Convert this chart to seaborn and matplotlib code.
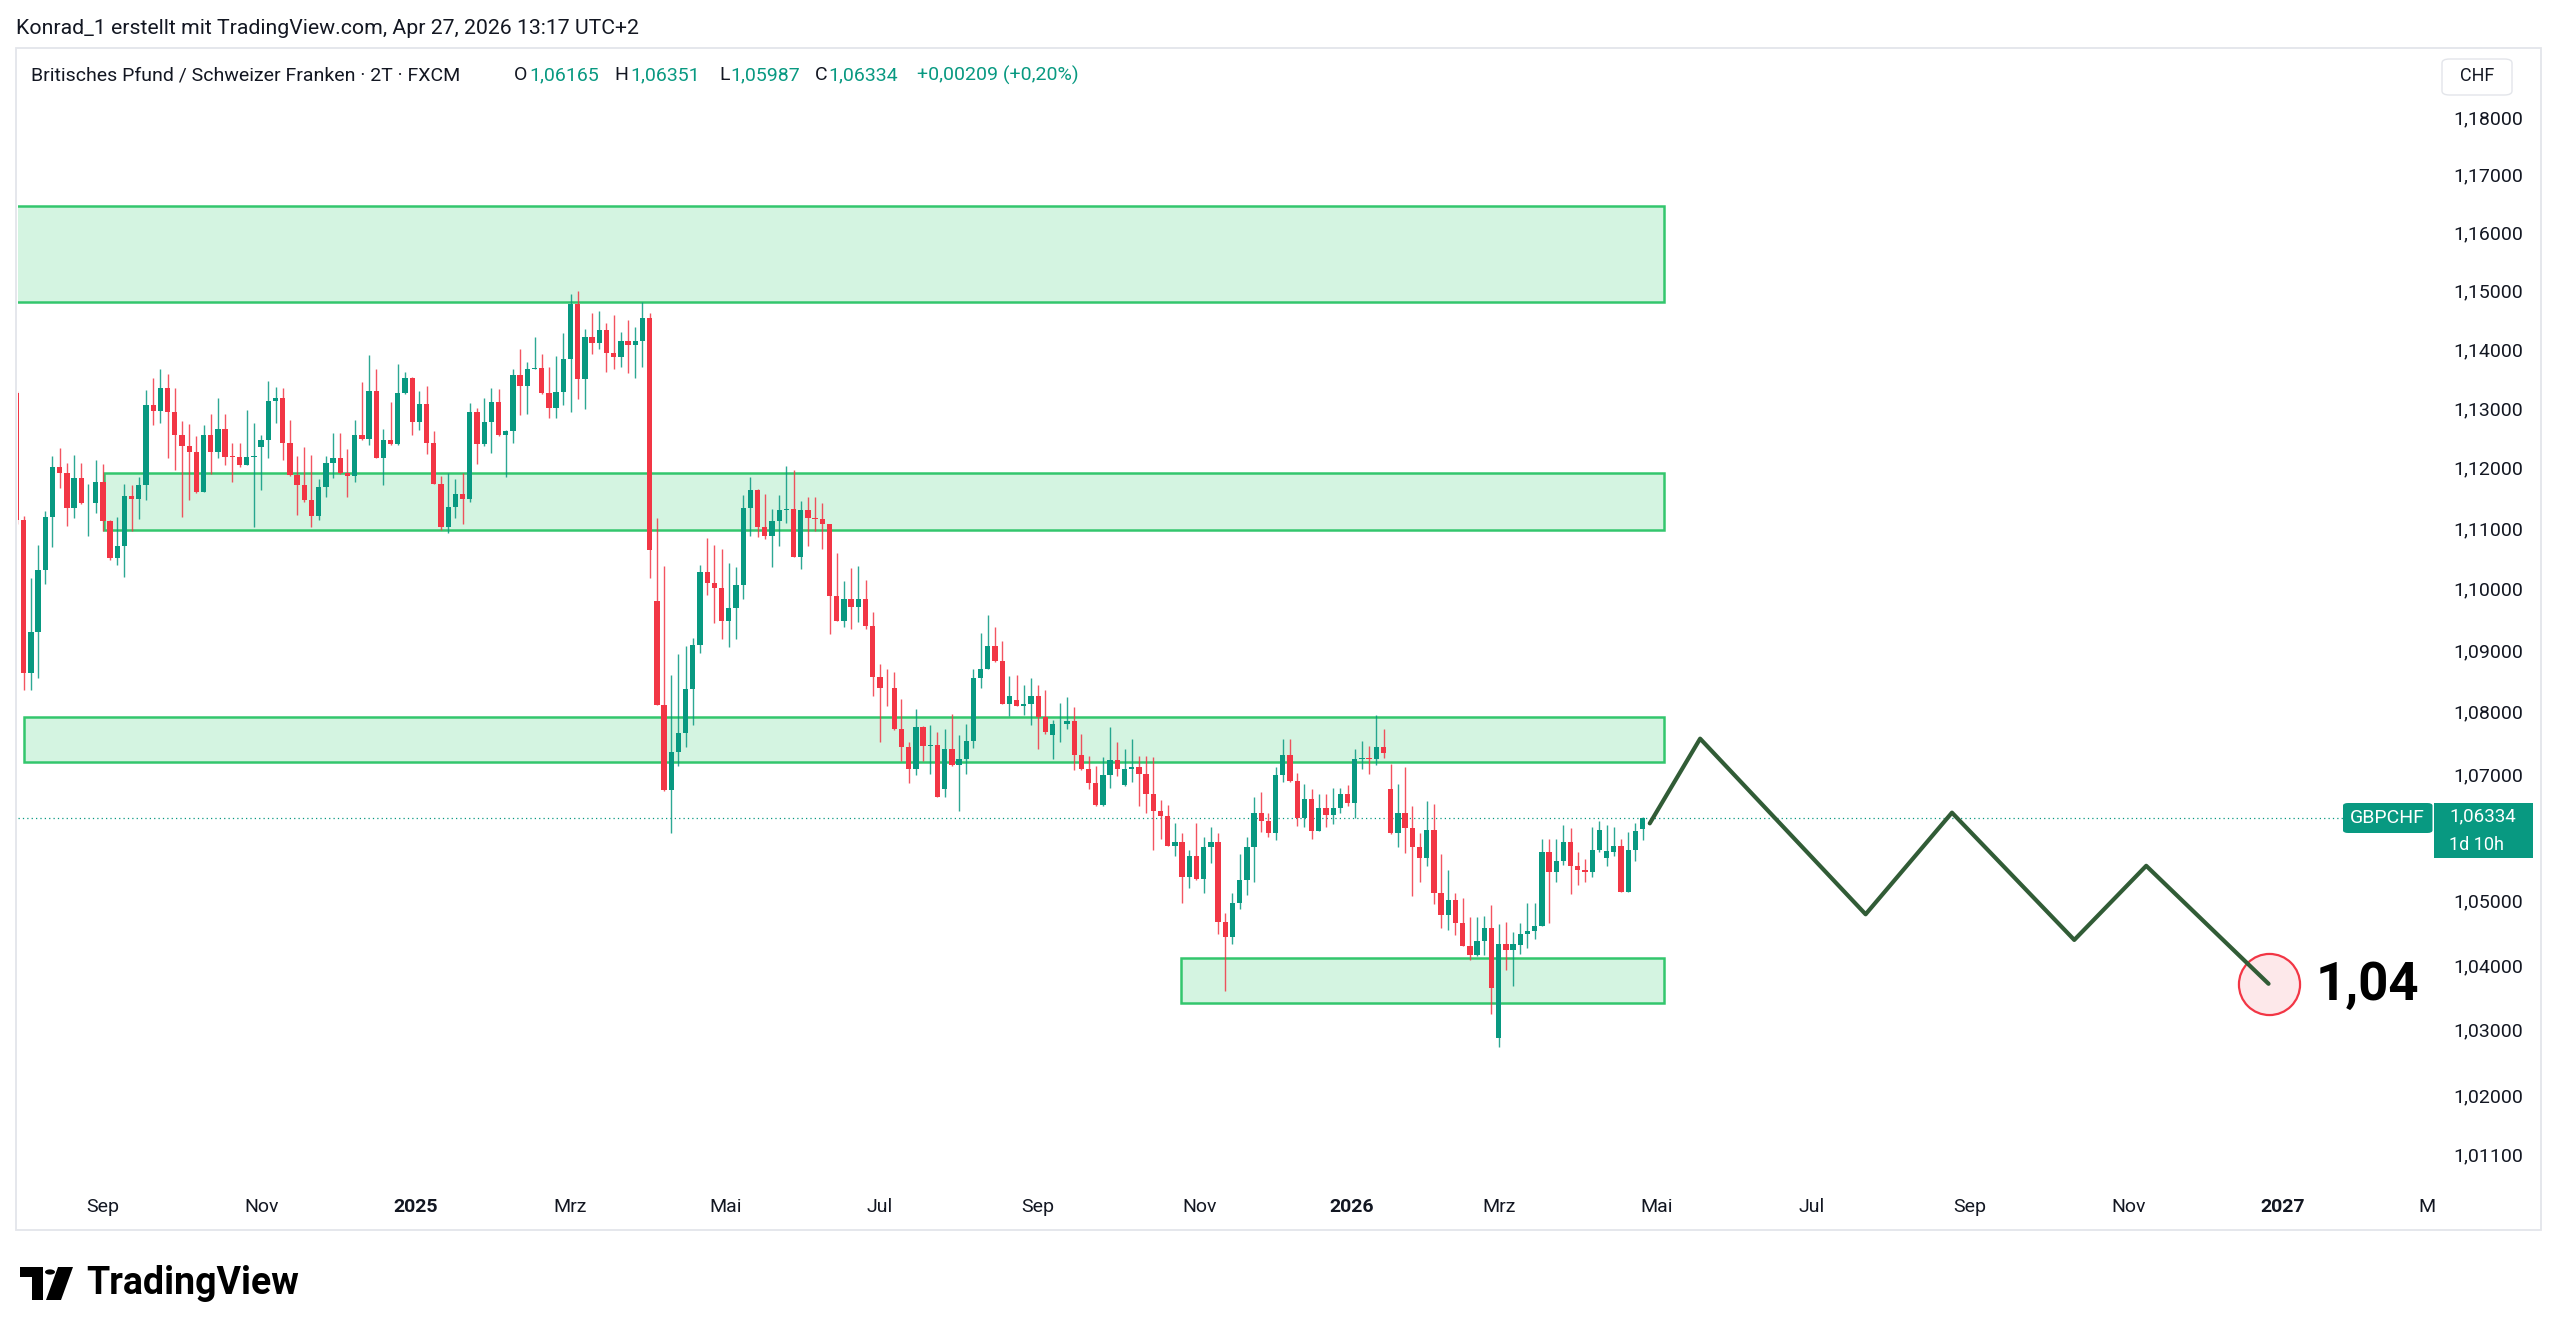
import numpy as np
import pandas as pd
import matplotlib
matplotlib.use("Agg")
import matplotlib.pyplot as plt
import seaborn as sns
from matplotlib.patches import Rectangle, FancyBboxPatch, Polygon, Circle
from matplotlib.transforms import blended_transform_factory
from matplotlib.ticker import NullLocator

# ---------------- data ----------------
opens = [1.1328,1.1116,1.0865,1.0933,1.1034,1.1122,1.1204,1.1195,1.1136,1.1187,
1.1144,1.1145,1.1180,1.1115,1.1053,1.1073,1.1156,1.1152,1.1174,1.1308,
1.1299,1.1338,1.1296,1.1258,1.1240,1.1230,1.1163,1.1258,1.1230,1.1268,
1.1222,1.1221,1.1208,1.1221,1.1238,1.1250,1.1316,1.1320,1.1245,1.1191,
1.1174,1.1150,1.1123,1.1171,1.1212,1.1219,1.1195,1.1190,1.1258,1.1251,
1.1332,1.1220,1.1250,1.1243,1.1329,1.1355,1.1280,1.1311,1.1245,1.1176,
1.1105,1.1138,1.1160,1.1151,1.1296,1.1243,1.1280,1.1314,1.1258,1.1265,
1.1360,1.1340,1.1370,1.1371,1.1328,1.1304,1.1330,1.1386,1.1480,1.1353,
1.1424,1.1414,1.1435,1.1397,1.1389,1.1417,1.1411,1.1417,1.1457,1.0983,
1.0814,1.0678,1.0739,1.0769,1.0840,1.0911,1.1031,1.1012,1.1004,1.0951,
1.0972,1.1010,1.1136,1.1167,1.1105,1.1090,1.1114,1.1133,1.1134,1.1056,
1.1133,1.1119,1.1118,1.1109,1.0992,1.0951,1.0986,1.0973,1.0986,1.0942,
1.0860,1.0842,1.0841,1.0775,1.0746,1.0712,1.0779,1.0749,1.0750,1.0680,
1.0744,1.0718,1.0727,1.0756,1.0857,1.0873,1.0909,1.0885,1.0816,1.0822,
1.0813,1.0815,1.0828,1.0795,1.0766,1.0783,1.0784,1.0789,1.0734,1.0712,
1.0689,1.0654,1.0702,1.0726,1.0686,1.0711,1.0714,1.0704,1.0671,1.0645,
1.0637,1.0589,1.0596,1.0541,1.0573,1.0537,1.0587,1.0596,1.0470,1.0446,
1.0500,1.0535,1.0588,1.0641,1.0628,1.0610,1.0702,1.0734,1.0693,1.0634,
1.0663,1.0613,1.0650,1.0638,1.0650,1.0672,1.0657,1.0728,1.0729,1.0727,
1.0746,1.0679,1.0610,1.0641,1.0617,1.0588,1.0571,1.0614,1.0515,1.0481,
1.0504,1.0468,1.0433,1.0418,1.0441,1.0461,1.0290,1.0436,1.0426,1.0434,
1.0451,1.0456,1.0464,1.0579,1.0549,1.0565,1.0595,1.0557,1.0551,1.0549,
1.0583,1.0570,1.0579,1.0589,1.0517,1.0583,1.06165]

highs = [1.1332,1.1123,1.1020,1.1075,1.1132,1.1223,1.1237,1.1212,1.1224,1.1212,
1.1177,1.1217,1.1210,1.1116,1.1122,1.1177,1.1174,1.1188,1.1334,1.1355,
1.1370,1.1361,1.1338,1.1282,1.1277,1.1256,1.1275,1.1293,1.1320,1.1293,
1.1245,1.1245,1.1300,1.1279,1.1258,1.1349,1.1339,1.1338,1.1283,1.1223,
1.1238,1.1224,1.1184,1.1223,1.1262,1.1262,1.1235,1.1284,1.1347,1.1394,
1.1370,1.1269,1.1314,1.1378,1.1364,1.1356,1.1332,1.1340,1.1265,1.1190,
1.1194,1.1184,1.1195,1.1312,1.1304,1.1321,1.1338,1.1335,1.1266,1.1370,
1.1404,1.1382,1.1423,1.1395,1.1373,1.1391,1.1431,1.1497,1.1502,1.1437,
1.1464,1.1468,1.1448,1.1461,1.1433,1.1453,1.1440,1.1484,1.1464,1.1119,
1.1040,1.0862,1.0897,1.0910,1.0922,1.1042,1.1086,1.1075,1.1069,1.1045,
1.1039,1.1158,1.1188,1.1168,1.1160,1.1135,1.1158,1.1206,1.1200,1.1148,
1.1155,1.1154,1.1144,1.1110,1.1062,1.1015,1.1037,1.1040,1.1017,1.0965,
1.0881,1.0873,1.0868,1.0823,1.0755,1.0807,1.0780,1.0782,1.0771,1.0776,
1.0800,1.0766,1.0783,1.0873,1.0930,1.0960,1.0941,1.0918,1.0861,1.0863,
1.0847,1.0858,1.0847,1.0838,1.0790,1.0817,1.0827,1.0811,1.0768,1.0733,
1.0716,1.0730,1.0779,1.0755,1.0743,1.0760,1.0733,1.0732,1.0731,1.0662,
1.0654,1.0625,1.0609,1.0583,1.0625,1.0604,1.0619,1.0610,1.0484,1.0516,
1.0577,1.0604,1.0667,1.0674,1.0641,1.0715,1.0760,1.0759,1.0705,1.0687,
1.0679,1.0672,1.0672,1.0681,1.0681,1.0686,1.0744,1.0756,1.0749,1.0798,
1.0775,1.0720,1.0687,1.0715,1.0652,1.0609,1.0661,1.0656,1.0577,1.0552,
1.0515,1.0508,1.0477,1.0477,1.0479,1.0496,1.0467,1.0470,1.0455,1.0469,
1.0499,1.0499,1.0600,1.0601,1.0601,1.0622,1.0618,1.0580,1.0568,1.0620,
1.0629,1.0622,1.0620,1.0600,1.0612,1.0626,1.06351]

lows = [1.1110,1.0838,1.0838,1.0857,1.1011,1.1071,1.1169,1.1107,1.1119,1.1143,
1.1090,1.1128,1.1099,1.1051,1.1042,1.1023,1.1099,1.1118,1.1150,1.1275,
1.1278,1.1220,1.1200,1.1121,1.1150,1.1161,1.1163,1.1193,1.1220,1.1208,
1.1180,1.1205,1.1208,1.1105,1.1167,1.1219,1.1279,1.1216,1.1189,1.1125,
1.1147,1.1104,1.1116,1.1155,1.1187,1.1193,1.1154,1.1180,1.1250,1.1241,
1.1219,1.1175,1.1241,1.1241,1.1327,1.1258,1.1266,1.1227,1.1176,1.1100,
1.1095,1.1120,1.1110,1.1147,1.1209,1.1240,1.1228,1.1256,1.1188,1.1244,
1.1292,1.1294,1.1369,1.1327,1.1286,1.1286,1.1308,1.1297,1.1318,1.1301,
1.1395,1.1404,1.1365,1.1369,1.1372,1.1362,1.1355,1.1373,1.1020,1.0814,
1.0676,1.0609,1.0717,1.0747,1.0782,1.0898,1.0993,1.0947,1.0921,1.0908,
1.0921,1.0986,1.1090,1.1089,1.1085,1.1039,1.1073,1.1112,1.1056,1.1035,
1.1073,1.1099,1.1069,1.0929,1.0950,1.0941,1.0937,1.0948,1.0937,1.0828,
1.0755,1.0812,1.0774,1.0725,1.0689,1.0702,1.0725,1.0703,1.0667,1.0667,
1.0717,1.0645,1.0704,1.0745,1.0841,1.0872,1.0884,1.0815,1.0796,1.0812,
1.0798,1.0782,1.0743,1.0768,1.0728,1.0755,1.0776,1.0710,1.0710,1.0679,
1.0653,1.0652,1.0681,1.0700,1.0685,1.0691,1.0652,1.0642,1.0583,1.0601,
1.0589,1.0574,1.0500,1.0523,1.0536,1.0516,1.0562,1.0451,1.0363,1.0436,
1.0490,1.0512,1.0533,1.0612,1.0604,1.0598,1.0690,1.0690,1.0621,1.0619,
1.0601,1.0613,1.0620,1.0624,1.0641,1.0653,1.0633,1.0711,1.0703,1.0718,
1.0729,1.0608,1.0588,1.0578,1.0510,1.0533,1.0558,1.0498,1.0460,1.0457,
1.0450,1.0433,1.0411,1.0417,1.0418,1.0328,1.0276,1.0395,1.0370,1.0420,
1.0430,1.0443,1.0463,1.0468,1.0532,1.0560,1.0514,1.0528,1.0533,1.0540,
1.0579,1.0558,1.0573,1.0517,1.0517,1.0566,1.05987]

closes = [1.1116,1.0865,1.0933,1.1034,1.1122,1.1204,1.1195,1.1136,1.1187,1.1144,
1.1145,1.1180,1.1115,1.1053,1.1073,1.1156,1.1152,1.1174,1.1308,1.1299,
1.1338,1.1296,1.1258,1.1240,1.1230,1.1163,1.1258,1.1230,1.1268,1.1222,
1.1221,1.1208,1.1221,1.1222,1.1250,1.1316,1.1320,1.1245,1.1191,1.1174,
1.1150,1.1123,1.1171,1.1212,1.1219,1.1195,1.1190,1.1258,1.1251,1.1332,
1.1220,1.1250,1.1243,1.1329,1.1355,1.1280,1.1311,1.1245,1.1176,1.1105,
1.1138,1.1160,1.1151,1.1297,1.1243,1.1280,1.1314,1.1258,1.1265,1.1360,
1.1340,1.1370,1.1371,1.1328,1.1304,1.1330,1.1386,1.1480,1.1353,1.1424,
1.1414,1.1435,1.1397,1.1389,1.1417,1.1411,1.1417,1.1457,1.1066,1.0814,
1.0678,1.0739,1.0769,1.0840,1.0911,1.1031,1.1012,1.1004,1.0951,1.0972,
1.1010,1.1136,1.1167,1.1105,1.1090,1.1114,1.1133,1.1134,1.1056,1.1133,
1.1119,1.1118,1.1109,1.0992,1.0951,1.0986,1.0973,1.0986,1.0942,1.0860,
1.0842,1.0841,1.0775,1.0746,1.0712,1.0779,1.0749,1.0750,1.0667,1.0744,
1.0718,1.0727,1.0756,1.0857,1.0873,1.0909,1.0885,1.0816,1.0829,1.0813,
1.0815,1.0828,1.0795,1.0770,1.0783,1.0784,1.0789,1.0734,1.0712,1.0689,
1.0654,1.0702,1.0726,1.0711,1.0711,1.0714,1.0704,1.0671,1.0645,1.0637,
1.0589,1.0596,1.0541,1.0573,1.0537,1.0587,1.0596,1.0470,1.0446,1.0500,
1.0535,1.0588,1.0641,1.0628,1.0610,1.0702,1.0734,1.0693,1.0634,1.0663,
1.0613,1.0650,1.0638,1.0650,1.0672,1.0657,1.0728,1.0729,1.0727,1.0746,
1.0737,1.0610,1.0641,1.0617,1.0588,1.0571,1.0614,1.0515,1.0481,1.0504,
1.0468,1.0433,1.0418,1.0441,1.0461,1.0367,1.0436,1.0426,1.0436,1.0451,
1.0456,1.0464,1.0579,1.0549,1.0565,1.0595,1.0557,1.0551,1.0549,1.0583,
1.0615,1.0581,1.0589,1.0517,1.0583,1.06125,1.06334]

last_bar_date = "2026-04-27"
market_holidays = ["2025-12-25", "2026-01-01", "2026-12-25", "2027-01-01"]

# support / resistance zones (price bands, start / end in bar units)
zone_low = [1.1483, 1.1100, 1.0722, 1.0344]
zone_high = [1.1649, 1.1195, 1.0794, 1.0414]
zone_start = [-5.0, 12.1, 1.1, 161.9]
zone_end = [229.0, 229.0, 229.0, 229.0]

# projected path
forecast_dates = ["2026-04-29", "2026-05-19", "2026-07-22", "2026-08-25",
                  "2026-10-12", "2026-11-09", "2026-12-28"]
forecast_prices = [1.0625, 1.0760, 1.0482, 1.0642, 1.0442, 1.0558, 1.0374]
target_label = "1,04"

month_starts = ["2024-09-01", "2024-11-01", "2025-01-01", "2025-03-01", "2025-05-01",
                "2025-07-01", "2025-09-01", "2025-11-01", "2026-01-01", "2026-03-01",
                "2026-05-01", "2026-07-01", "2026-09-01", "2026-11-01", "2027-01-01",
                "2027-03-01"]
month_labels = ["Sep", "Nov", "2025", "Mrz", "Mai", "Jul", "Sep", "Nov", "2026", "Mrz",
                "Mai", "Jul", "Sep", "Nov", "2027", "M"]

# 1,06000 is hidden behind the last-price label in the reference
price_ticks = [1.18, 1.17, 1.16, 1.15, 1.14, 1.13, 1.12, 1.11, 1.10, 1.09, 1.08,
               1.07, 1.05, 1.04, 1.03, 1.02, 1.011]

last_price = 1.06334
symbol = "GBPCHF"
countdown = "1d 10h"

# ---------------- style ----------------
GREEN = "#089981"
RED = "#F23645"
DARK = "#131722"
ZONE_FILL = "#d4f4e1"
ZONE_EDGE = "#33c66d"
PATH = "#315c36"

sns.set_theme(style="white")
plt.rcParams["font.family"] = ["Roboto", "DejaVu Sans"]

W, H = 2560, 1337
fig = plt.figure(figsize=(W / 100, H / 100), dpi=100)
fig.patch.set_facecolor("white")

def fxp(px):
    return px / W

def fyp(py):
    return 1 - py / H

AX_L, AX_R, AX_T, AX_B = 17.5, 2433, 50, 1184
BAR0_PX, BAR_PX = 16.5, 7.195
ax = fig.add_axes([fxp(AX_L), fyp(AX_B), (AX_R - AX_L) / W, (AX_B - AX_T) / H])
ax.set_facecolor("white")
ax.set_yscale("log")
ax.set_xlim((AX_L - BAR0_PX) / BAR_PX, (AX_R - BAR0_PX) / BAR_PX)
ax.set_ylim(1.0069, 1.1923)
for s in ax.spines.values():
    s.set_visible(False)
ax.xaxis.set_major_locator(NullLocator())
ax.xaxis.set_minor_locator(NullLocator())
ax.yaxis.set_major_locator(NullLocator())
ax.yaxis.set_minor_locator(NullLocator())
ax.grid(False)

# ---------------- time index ----------------
N = len(closes)
past = pd.bdate_range(end=pd.Timestamp(last_bar_date) + pd.offsets.CustomBusinessDay(1, holidays=market_holidays),
                      periods=2 * N, freq="C", holidays=market_holidays)
bdays = pd.bdate_range(start=past[0], end="2027-04-30", freq="C", holidays=market_holidays)

def date_pos(d):
    return bdays.searchsorted(pd.Timestamp(d)) / 2.0

x = np.arange(N)
o = np.array(opens); h = np.array(highs); l = np.array(lows); c = np.array(closes)
up = c >= o
cols = np.where(up, GREEN, RED)

# ---------------- zones ----------------
for lo, hi, x0, x1 in zip(zone_low, zone_high, zone_start, zone_end):
    ax.add_patch(Rectangle((x0, lo), x1 - x0, hi - lo, facecolor=ZONE_FILL,
                           edgecolor=ZONE_EDGE, lw=1.8, zorder=1))

# current price line
ax.axhline(last_price, color=GREEN, lw=0.9, ls=(0, (1, 2.5)), zorder=2)

# ---------------- candles ----------------
ax.vlines(x, l, h, colors=cols, lw=1.0, alpha=0.85, zorder=3)
ax.bar(x, np.maximum(np.abs(c - o), 0.00012), bottom=np.minimum(o, c), width=0.74,
       color=cols, linewidth=0, zorder=4)

# ---------------- forecast path ----------------
fpos = [date_pos(d) for d in forecast_dates]
ax.scatter([fpos[-1]], [forecast_prices[-1]], s=44 ** 2, facecolor="#fde8ea",
           edgecolor=RED, linewidth=1.6, zorder=5)
sns.lineplot(x=fpos, y=forecast_prices, sort=False, estimator=None, color=PATH,
             linewidth=3.0, ax=ax, zorder=6, legend=False)
ax.annotate(target_label, xy=(fpos[-1], forecast_prices[-1]), xytext=(34, -11.5),
            textcoords="offset points", fontsize=38, fontweight="bold", color="black",
            ha="left", va="baseline", zorder=7, annotation_clip=False)

# ---------------- price scale ----------------
ylab_x = (2523 - AX_L) / (AX_R - AX_L)
tr_y = blended_transform_factory(ax.transAxes, ax.transData)
for p in price_ticks:
    ax.text(ylab_x, p, f"{p:.5f}".replace(".", ","), transform=tr_y, ha="right",
            va="center", fontsize=14, color=DARK, clip_on=False)

# ---------------- time scale ----------------
tr_x = blended_transform_factory(ax.transData, fig.transFigure)
for d, lab in zip(month_starts, month_labels):
    ax.text(date_pos(d), fyp(1207), lab, transform=tr_x, ha="center", va="center",
            fontsize=14, color=DARK, fontweight="bold" if lab.isdigit() else "normal",
            clip_on=False)

# ---------------- frame ----------------
fig.patches.append(FancyBboxPatch((fxp(16), fyp(1230)), fxp(2541 - 16), (1230 - 48) / H,
                                  boxstyle="square,pad=0", transform=fig.transFigure,
                                  facecolor="none", edgecolor="#e3e5ea", lw=1.3, zorder=1))

# CHF box
fig.patches.append(FancyBboxPatch((fxp(2442), fyp(95)), fxp(70), 36 / H,
                                  boxstyle="round,pad=0,rounding_size=0.003",
                                  transform=fig.transFigure, facecolor="white",
                                  edgecolor="#e3e5ea", lw=1.0, zorder=2))
fig.text(fxp(2477), fyp(76), "CHF", ha="center", va="center", fontsize=13, color=DARK)

# symbol + price label
fig.patches.append(FancyBboxPatch((fxp(2343), fyp(833)), fxp(89.5), 30 / H,
                                  boxstyle="round,pad=0,rounding_size=0.002",
                                  transform=fig.transFigure, facecolor=GREEN,
                                  edgecolor="none", zorder=2))
fig.text(fxp(2387.5), fyp(818), symbol, ha="center", va="center", fontsize=14,
         color="white", zorder=3)
fig.patches.append(Rectangle((fxp(2434), fyp(858)), fxp(99), 55 / H,
                             transform=fig.transFigure, facecolor=GREEN,
                             edgecolor="none", zorder=2))
fig.text(fxp(2449), fyp(816), f"{last_price:.5f}".replace(".", ","), ha="left",
         va="center", fontsize=13.5, color="white", zorder=3)
fig.text(fxp(2449), fyp(845), countdown, ha="left", va="center", fontsize=13,
         color="white", zorder=3)

# ---------------- header ----------------
fig.text(fxp(16), fyp(28), "Konrad_1 erstellt mit TradingView.com, Apr 27, 2026 13:17 UTC+2",
         ha="left", va="center", fontsize=15.3, color=DARK)
ty = fyp(75)
fig.text(fxp(31), ty, "Britisches Pfund / Schweizer Franken · 2T · FXCM", ha="left",
         va="center", fontsize=14, color=DARK)
for letter, val, xl, xv in [("O", opens[-1], 514, 529), ("H", highs[-1], 614, 630),
                            ("L", lows[-1], 719, 730), ("C", closes[-1], 815, 828)]:
    fig.text(fxp(xl), ty, letter, ha="left", va="center", fontsize=14, color=DARK)
    fig.text(fxp(xv), ty, f"{val:.5f}".replace(".", ","), ha="left", va="center",
             fontsize=14, color=GREEN)
chg = closes[-1] - closes[-2]
fig.text(fxp(917), ty, f"+{chg:.5f} (+{chg / closes[-2] * 100:.2f}%)".replace(".", ","),
         ha="left", va="center", fontsize=14, color=GREEN)

# ---------------- logo ----------------
fig.patches.append(Polygon([[fxp(20), fyp(1267)], [fxp(43), fyp(1267)], [fxp(43), fyp(1300)],
                            [fxp(32), fyp(1300)], [fxp(32), fyp(1277)], [fxp(20), fyp(1277)]],
                           closed=True, transform=fig.transFigure, facecolor="black",
                           edgecolor="none", zorder=2))
fig.patches.append(Circle((fxp(50), fyp(1272)), 5 / W, transform=fig.transFigure,
                          facecolor="black", edgecolor="none", zorder=2))
fig.patches.append(Polygon([[fxp(58), fyp(1267)], [fxp(73), fyp(1267)], [fxp(61), fyp(1300)],
                            [fxp(46), fyp(1300)]], closed=True, transform=fig.transFigure,
                           facecolor="black", edgecolor="none", zorder=2))
fig.text(fxp(86), fyp(1284), "TradingView", ha="left", va="center", fontsize=27,
         fontweight="bold", color="black")

fig.savefig("out.png", dpi=100, facecolor="white")
